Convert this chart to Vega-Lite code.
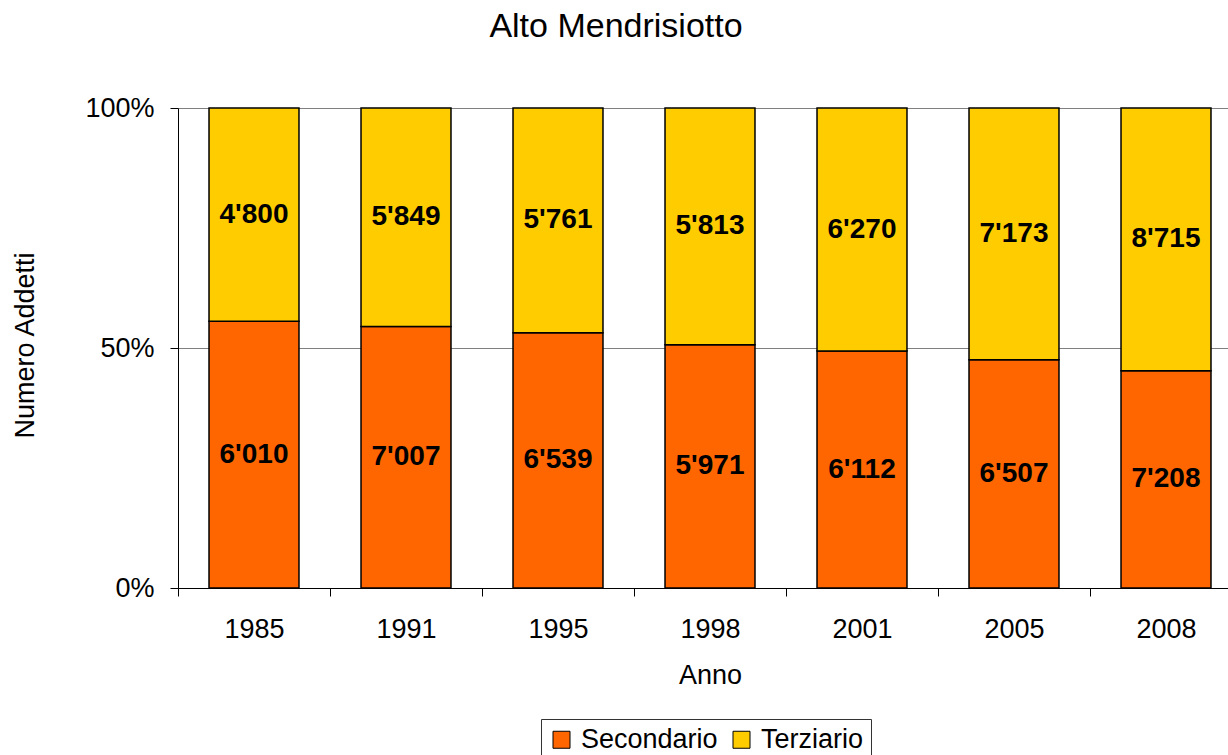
{
  "$schema": "https://vega.github.io/schema/vega-lite/v6.json",
  "width": 1050,
  "height": 480,
  "autosize": {"type": "none"},
  "padding": {"left": 178, "top": 108, "right": 0, "bottom": 167},
  "background": "white",
  "title": {
    "text": "Alto Mendrisiotto",
    "fontSize": 34,
    "font": "Liberation Sans",
    "fontWeight": "normal",
    "color": "black",
    "anchor": "middle",
    "baseline": "alphabetic",
    "dx": -87,
    "offset": 23
  },
  "data": {
    "values": [
      {"Anno": "1985", "Settore": "Secondario", "Addetti": 6010},
      {"Anno": "1985", "Settore": "Terziario", "Addetti": 4800},
      {"Anno": "1991", "Settore": "Secondario", "Addetti": 7007},
      {"Anno": "1991", "Settore": "Terziario", "Addetti": 5849},
      {"Anno": "1995", "Settore": "Secondario", "Addetti": 6539},
      {"Anno": "1995", "Settore": "Terziario", "Addetti": 5761},
      {"Anno": "1998", "Settore": "Secondario", "Addetti": 5971},
      {"Anno": "1998", "Settore": "Terziario", "Addetti": 5813},
      {"Anno": "2001", "Settore": "Secondario", "Addetti": 6112},
      {"Anno": "2001", "Settore": "Terziario", "Addetti": 6270},
      {"Anno": "2005", "Settore": "Secondario", "Addetti": 6507},
      {"Anno": "2005", "Settore": "Terziario", "Addetti": 7173},
      {"Anno": "2008", "Settore": "Secondario", "Addetti": 7208},
      {"Anno": "2008", "Settore": "Terziario", "Addetti": 8715}
    ]
  },
  "transform": [
    {"stack": "Addetti", "groupby": ["Anno"], "as": ["y0", "y1"], "offset": "normalize", "sort": [{"field": "Settore", "order": "ascending"}]},
    {"calculate": "(datum.y0 + datum.y1) / 2", "as": "ymid"}
  ],
  "encoding": {
    "x": {
      "field": "Anno",
      "type": "ordinal",
      "scale": {"range": [0, 1064], "paddingInner": 0, "paddingOuter": 0},
      "axis": {
        "title": "Anno",
        "titleFont": "Liberation Sans",
        "titleFontSize": 27,
        "titleFontWeight": "normal",
        "titleColor": "black",
        "titleBaseline": "alphabetic",
        "titleY": 95,
        "labelAngle": 0,
        "labelFont": "Liberation Sans",
        "labelFontSize": 27,
        "labelColor": "black",
        "labelBaseline": "alphabetic",
        "labelPadding": 41,
        "tickBand": "extent",
        "tickSize": 8,
        "tickColor": "black",
        "domainColor": "black",
        "domainWidth": 1,
        "grid": false
      }
    }
  },
  "layer": [
    {
      "mark": {"type": "bar", "stroke": "black", "strokeWidth": 1.5, "width": {"band": 0.592}},
      "encoding": {
        "y": {
          "field": "y0",
          "type": "quantitative",
          "scale": {"domain": [0, 1], "nice": false},
          "axis": {
            "title": "Numero Addetti",
            "titleFont": "Liberation Sans",
            "titleFontSize": 27,
            "titleFontWeight": "normal",
            "titleColor": "black",
            "titleAngle": -90,
            "titleBaseline": "alphabetic",
            "titleX": -145,
            "titleY": 237,
            "values": [0, 0.5, 1],
            "format": ".0%",
            "labelFont": "Liberation Sans",
            "labelFontSize": 27,
            "labelColor": "black",
            "labelPadding": 16,
            "tickSize": 8,
            "tickColor": "black",
            "domainColor": "black",
            "grid": true,
            "gridColor": "#808080",
            "gridWidth": 1
          }
        },
        "y2": {"field": "y1"},
        "color": {
          "field": "Settore",
          "type": "nominal",
          "scale": {"domain": ["Secondario", "Terziario"], "range": ["#FF6600", "#FFCC00"]},
          "legend": {
            "orient": "none",
            "legendX": 363,
            "legendY": 611,
            "direction": "horizontal",
            "title": null,
            "strokeColor": "#333333",
            "padding": 7,
            "symbolType": "square",
            "symbolSize": 289,
            "symbolStrokeColor": "black",
            "symbolStrokeWidth": 1,
            "symbolOpacity": 1,
            "labelFont": "Liberation Sans",
            "labelFontSize": 27,
            "labelColor": "black",
            "labelOffset": 6,
            "columnPadding": 10
          }
        }
      }
    },
    {
      "mark": {"type": "text", "font": "Liberation Sans", "fontSize": 28, "fontWeight": "bold", "color": "black", "baseline": "middle", "align": "center"},
      "encoding": {
        "y": {"field": "ymid", "type": "quantitative"},
        "text": {"field": "Addetti", "type": "quantitative", "format": ",d"}
      }
    }
  ],
  "config": {
    "locale": {"number": {"decimal": ".", "thousands": "'", "grouping": [3], "currency": ["", ""]}},
    "view": {"stroke": null}
  }
}
